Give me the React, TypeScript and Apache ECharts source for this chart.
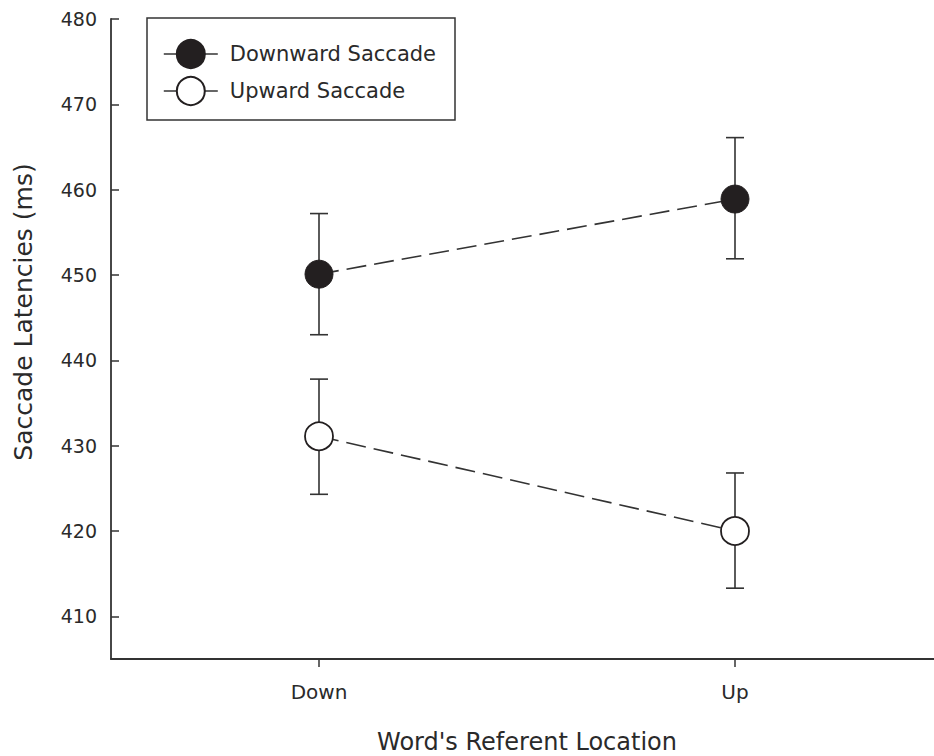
import React, { useEffect, useRef } from "react";
import * as echarts from "echarts";

const categories = ["Down", "Up"];
const downwardMeans = [450.1, 458.9];
const downwardLow = [443.0, 451.9];
const downwardHigh = [457.2, 466.1];
const upwardMeans = [431.1, 420.0];
const upwardLow = [424.3, 413.3];
const upwardHigh = [437.8, 426.8];
const seriesNames = ["Downward Saccade", "Upward Saccade"];
const yTitle = "Saccade Latencies (ms)";
const xTitle = "Word's Referent Location";

const FONT = "DejaVu Sans";
const INK = "#2a2a2a";
const LINE = "#333333";

function errorSeries(name: string, low: number[], high: number[]) {
  return {
    type: "custom",
    name,
    z: 1,
    silent: true,
    data: categories.map((_, i) => [i, low[i], high[i]]),
    renderItem: (_params: any, api: any) => {
      const x = api.value(0);
      const pLo = api.coord([x, api.value(1)]);
      const pHi = api.coord([x, api.value(2)]);
      const hw = 9;
      const style = { stroke: LINE, lineWidth: 1.6 };
      return {
        type: "group",
        children: [
          { type: "line", shape: { x1: pLo[0], y1: pLo[1], x2: pHi[0], y2: pHi[1] }, style },
          { type: "line", shape: { x1: pLo[0] - hw, y1: pLo[1], x2: pLo[0] + hw, y2: pLo[1] }, style },
          { type: "line", shape: { x1: pHi[0] - hw, y1: pHi[1], x2: pHi[0] + hw, y2: pHi[1] }, style },
        ],
      };
    },
  };
}

export default function App() {
  const ref = useRef<HTMLDivElement>(null);
  useEffect(() => {
    if (!ref.current) return;
    const chart = echarts.init(ref.current, null, { renderer: "svg" });
    chart.setOption({
      animation: false,
      backgroundColor: "#ffffff",
      grid: { left: 111, right: -9, top: 19, bottom: 97, outerBoundsMode: "none", containLabel: false },
      legend: {
        orient: "vertical",
        left: 163,
        top: 39,
        padding: 0,
        itemWidth: 54,
        itemHeight: 35,
        itemGap: 7,
        data: seriesNames,
        lineStyle: { type: "solid", width: 1.6, color: LINE },
        textStyle: { fontFamily: FONT, fontSize: 21, color: INK, padding: [0, 0, 0, 7] },
        selectedMode: false,
      },
      xAxis: {
        type: "category",
        data: categories,
        boundaryGap: true,
        axisLine: { show: true, lineStyle: { color: LINE, width: 1.8 } },
        axisTick: { show: true, alignWithLabel: true, inside: false, length: 8, lineStyle: { color: LINE, width: 1.5 } },
        axisLabel: { fontFamily: FONT, fontSize: 20, color: INK, margin: 23 },
        splitLine: { show: false },
      },
      yAxis: {
        type: "value",
        min: 405,
        max: 480,
        splitNumber: 7,
        axisLine: { show: true, lineStyle: { color: LINE, width: 1.8 } },
        axisTick: { show: true, inside: true, length: 8, lineStyle: { color: LINE, width: 1.5 } },
        axisLabel: { fontFamily: FONT, fontSize: 19, color: INK, margin: 14, showMinLabel: false },
        splitLine: { show: false },
      },
      graphic: [
        {
          type: "rect",
          z: 0,
          shape: { x: 147, y: 18, width: 308, height: 102 },
          style: { fill: "rgba(0,0,0,0)", stroke: LINE, lineWidth: 1.5 },
        },
        {
          type: "text",
          x: 23,
          y: 312,
          rotation: Math.PI / 2,
          style: { text: yTitle, fontFamily: FONT, fontSize: 25, fill: INK, align: "center", verticalAlign: "middle" },
        },
        {
          type: "text",
          x: 527,
          y: 754,
          style: { text: xTitle, fontFamily: FONT, fontSize: 24, fill: INK, align: "center", verticalAlign: "bottom" },
        },
      ],
      series: [
        errorSeries("err-down", downwardLow, downwardHigh),
        errorSeries("err-up", upwardLow, upwardHigh),
        {
          type: "line",
          name: seriesNames[0],
          z: 3,
          data: downwardMeans,
          symbol: "circle",
          symbolSize: 28,
          lineStyle: { color: LINE, width: 1.6, type: [20, 8] },
          itemStyle: { color: "#231f20", borderColor: "#231f20", borderWidth: 1 },
        },
        {
          type: "line",
          name: seriesNames[1],
          z: 3,
          data: upwardMeans,
          symbol: "circle",
          symbolSize: 28,
          lineStyle: { color: LINE, width: 1.6, type: [20, 8] },
          itemStyle: { color: "#ffffff", borderColor: "#231f20", borderWidth: 1.8 },
        },
      ],
    });
    return () => chart.dispose();
  }, []);
  return (
    <div
      ref={ref}
      style={{ position: "fixed", left: 0, top: 0, width: 934, height: 756, background: "#fff" }}
    />
  );
}
